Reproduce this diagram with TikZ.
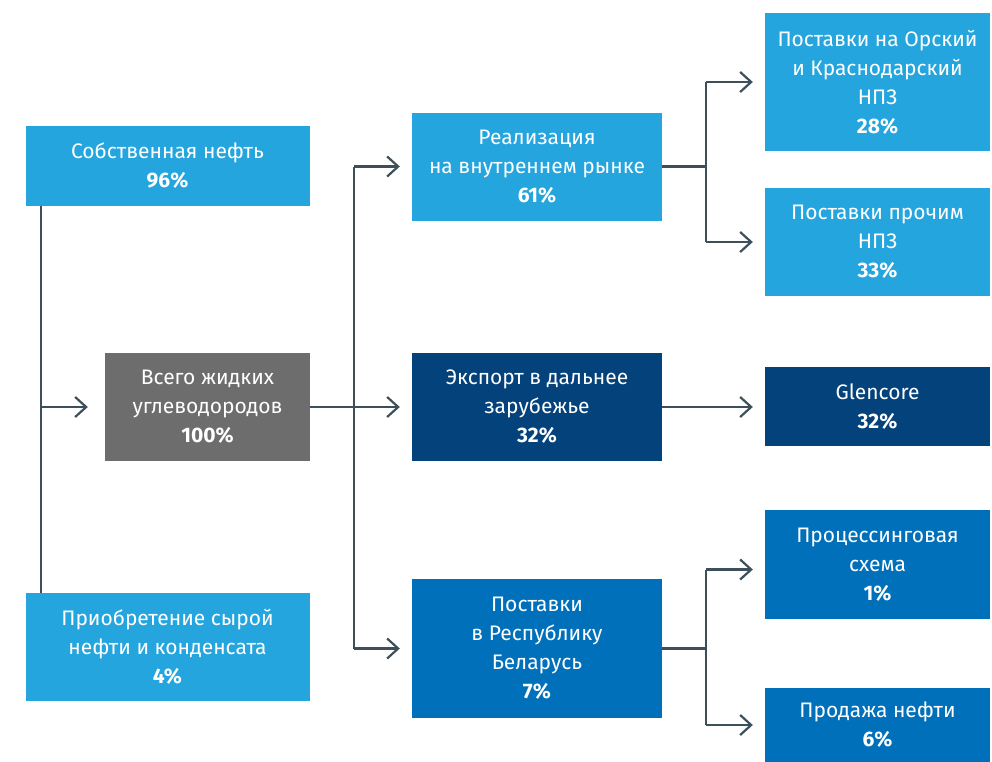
\documentclass[tikz,border=0pt]{standalone}
\usepackage{fontspec}
\setmainfont{Fira Sans}
\usetikzlibrary{arrows.meta}
\usetikzlibrary{positioning}

\definecolor{lightblue}{HTML}{24A5DD}
\definecolor{midblue}{HTML}{0070BA}
\definecolor{navyblue}{HTML}{03427A}
\definecolor{boxgray}{HTML}{6D6D6D}
\definecolor{linegray}{HTML}{3C4F5A}

\begin{document}
\begin{tikzpicture}[x=1pt,y=-1pt,
    box/.style={rectangle, text=white, align=center, inner sep=0pt,
        font=\fontsize{21}{29}\selectfont},
    link/.style={draw=linegray, line width=2.2pt},
    arrow/.style={link, -{Straight Barb[length=11pt,width=20pt,line width=2.2pt]}, shorten >=12pt}]
        \useasboundingbox (0,0) rectangle (992,761);
        % sources
        \node (own) [box, fill=lightblue, minimum width=284pt, minimum height=80pt] at (167.5,166) {Собственная нефть\\\textbf{96\%}};
        \node (total) [box, fill=boxgray, minimum width=205pt, minimum height=108pt] at (207.5,407) {Всего жидких\\углеводородов\\\textbf{100\%}};
        \node (bought) [box, fill=lightblue, minimum width=284pt, minimum height=108pt] at (167.5,647) {Приобретение сырой\\нефти и конденсата\\\textbf{4\%}};
        % channels
        \node (domestic) [box, fill=lightblue, minimum width=250pt, minimum height=108pt] at (537,166.5) {Реализация\\на внутреннем рынке\\\textbf{61\%}};
        \node (export) [box, fill=navyblue, minimum width=250pt, minimum height=108pt] at (537,407) {Экспорт в дальнее\\зарубежье\\\textbf{32\%}};
        \node (belarus) [box, fill=midblue, minimum width=250pt, minimum height=139pt] at (537,648.5) {Поставки\\в Республику\\Беларусь\\\textbf{7\%}};
        % buyers
        \node (orsk) [box, fill=lightblue, minimum width=225pt, minimum height=138pt] at (877.5,82) {Поставки на Орский\\и Краснодарский\\НПЗ\\\textbf{28\%}};
        \node (other) [box, fill=lightblue, minimum width=225pt, minimum height=108pt] at (877.5,242) {Поставки прочим\\НПЗ\\\textbf{33\%}};
        \node (glencore) [box, fill=navyblue, minimum width=225pt, minimum height=79pt] at (877.5,406.5) {Glencore\\\textbf{32\%}};
        \node (processing) [box, fill=midblue, minimum width=225pt, minimum height=109pt] at (877.5,564.5) {Процессинговая\\схема\\\textbf{1\%}};
        \node (sale) [box, fill=midblue, minimum width=225pt, minimum height=74pt] at (877.5,725) {Продажа нефти\\\textbf{6\%}};

        \coordinate (trunk) at (41,406);
        \coordinate (split) at (354,406);
        \coordinate (forkup) at (706,163);
        \coordinate (forkdown) at (706,647);
        \coordinate (procin) at ([yshift=-5pt]processing.west);

        \draw [link] (own.south -| trunk) -- (bought.north -| trunk);
        \draw [arrow, shorten >=17pt] (trunk |- total.west) -- (total.west);
        \draw [arrow] (total.east) -- (export.west);
        \draw [link] (split |- domestic.west) -- (split |- belarus.west);
        \draw [arrow] (split |- domestic.west) -- (domestic.west);
        \draw [arrow] (split |- belarus.west) -- (belarus.west);

        \draw [link] (domestic.east) -- (domestic.east -| forkup);
        \draw [link] (forkup |- orsk.west) -- (forkup |- other.west);
        \draw [arrow] (forkup |- orsk.west) -- (orsk.west);
        \draw [arrow] (forkup |- other.west) -- (other.west);

        \draw [arrow] (export.east) -- (export.east -| glencore.west);

        \draw [link] (belarus.east) -- (belarus.east -| forkdown);
        \draw [link] (forkdown |- procin) -- (forkdown |- sale.west);
        \draw [arrow] (forkdown |- procin) -- (procin);
        \draw [arrow] (forkdown |- sale.west) -- (sale.west);
\end{tikzpicture}
\end{document}
